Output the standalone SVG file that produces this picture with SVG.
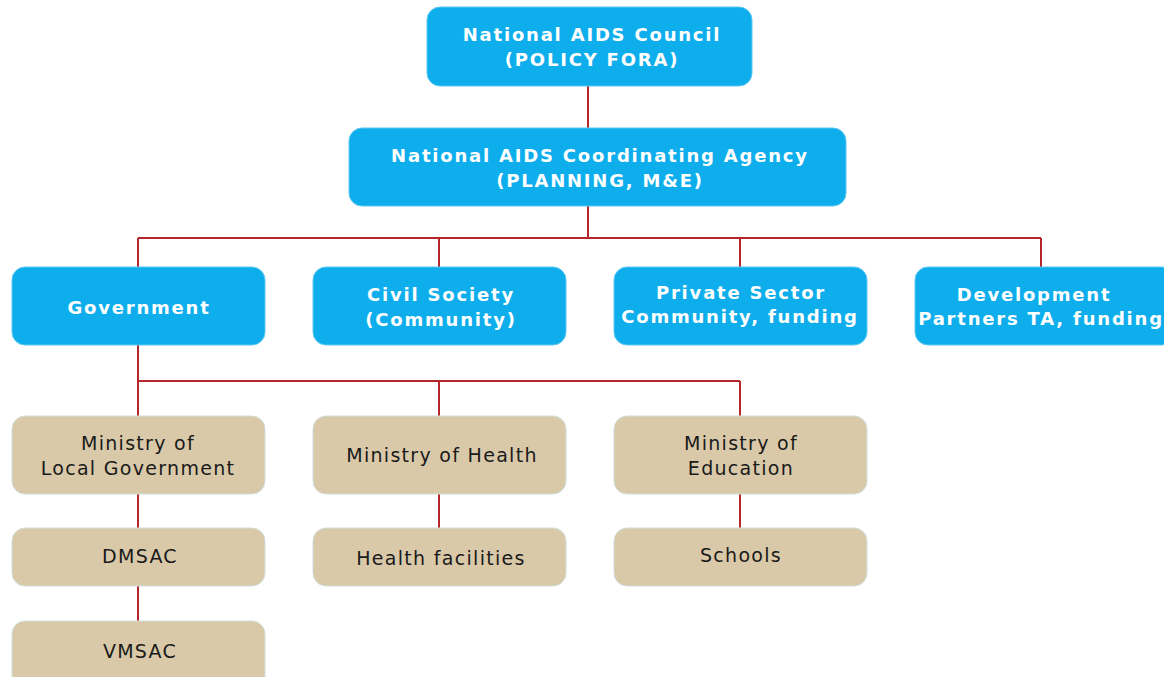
<svg xmlns="http://www.w3.org/2000/svg" width="1164" height="677" viewBox="0 0 1164 677">
<style>
.b{fill:#0eaeed;stroke:#5cc8f2;stroke-width:1}
.t{fill:#d9c9a9;stroke:#cfe0dc;stroke-width:1}
.wt{font-family:"DejaVu Sans",Verdana,sans-serif;font-weight:bold;font-size:18px;fill:#ffffff;text-anchor:middle;letter-spacing:1.8px}
.bt{font-family:"DejaVu Sans",Verdana,sans-serif;font-size:19px;fill:#1a1a1a;text-anchor:middle;letter-spacing:1.3px}
.c{stroke:#b3262a;stroke-width:2;fill:none}
</style>
<rect width="1164" height="677" fill="#ffffff"/>
<g id="connectors">
<path class="c" d="M588 86V128M588 206V238M138 238H1041M138 238V267M439 238V267M740 238V267M1041 238V267"/>
<path class="c" d="M138 345V416M138 381H740M439 381V416M740 381V416"/>
<path class="c" d="M138 494V528M138 586V621M439 494V528M740 494V528"/>
</g>
<g id="n1"><rect class="b" x="427" y="7" width="325" height="79" rx="13"/><text class="wt" x="592" y="41">National AIDS Council</text><text class="wt" x="592" y="66">(POLICY FORA)</text></g>
<g id="n2"><rect class="b" x="349" y="128" width="497" height="78" rx="13"/><text class="wt" x="600" y="162">National AIDS Coordinating Agency</text><text class="wt" x="600" y="187">(PLANNING, M&amp;E)</text></g>
<g id="n3"><rect class="b" x="12" y="267" width="253" height="78" rx="13"/><text class="wt" x="139" y="314">Government</text></g>
<g id="n4"><rect class="b" x="313" y="267" width="253" height="78" rx="13"/><text class="wt" x="441" y="301">Civil Society</text><text class="wt" x="441" y="326">(Community)</text></g>
<g id="n5"><rect class="b" x="614" y="267" width="253" height="78" rx="13"/><text class="wt" x="741" y="299">Private Sector</text><text class="wt" x="740" y="323">Community, funding</text></g>
<g id="n6"><rect class="b" x="915" y="267" width="260" height="78" rx="13"/><text class="wt" x="1034" y="301">Development</text><text class="wt" x="1041" y="325">Partners TA, funding</text></g>
<g id="n7"><rect class="t" x="12" y="416" width="253" height="78" rx="13"/><text class="bt" x="138" y="450">Ministry of</text><text class="bt" x="138" y="475">Local Government</text></g>
<g id="n8"><rect class="t" x="313" y="416" width="253" height="78" rx="13"/><text class="bt" x="442" y="462">Ministry of Health</text></g>
<g id="n9"><rect class="t" x="614" y="416" width="253" height="78" rx="13"/><text class="bt" x="741" y="450">Ministry of</text><text class="bt" x="741" y="475">Education</text></g>
<g id="n10"><rect class="t" x="12" y="528" width="253" height="58" rx="13"/><text class="bt" x="140" y="563">DMSAC</text></g>
<g id="n11"><rect class="t" x="313" y="528" width="253" height="58" rx="13"/><text class="bt" x="441" y="565">Health facilities</text></g>
<g id="n12"><rect class="t" x="614" y="528" width="253" height="58" rx="13"/><text class="bt" x="741" y="562">Schools</text></g>
<g id="n13"><rect class="t" x="12" y="621" width="253" height="70" rx="13"/><text class="bt" x="140" y="658">VMSAC</text></g>
</svg>
